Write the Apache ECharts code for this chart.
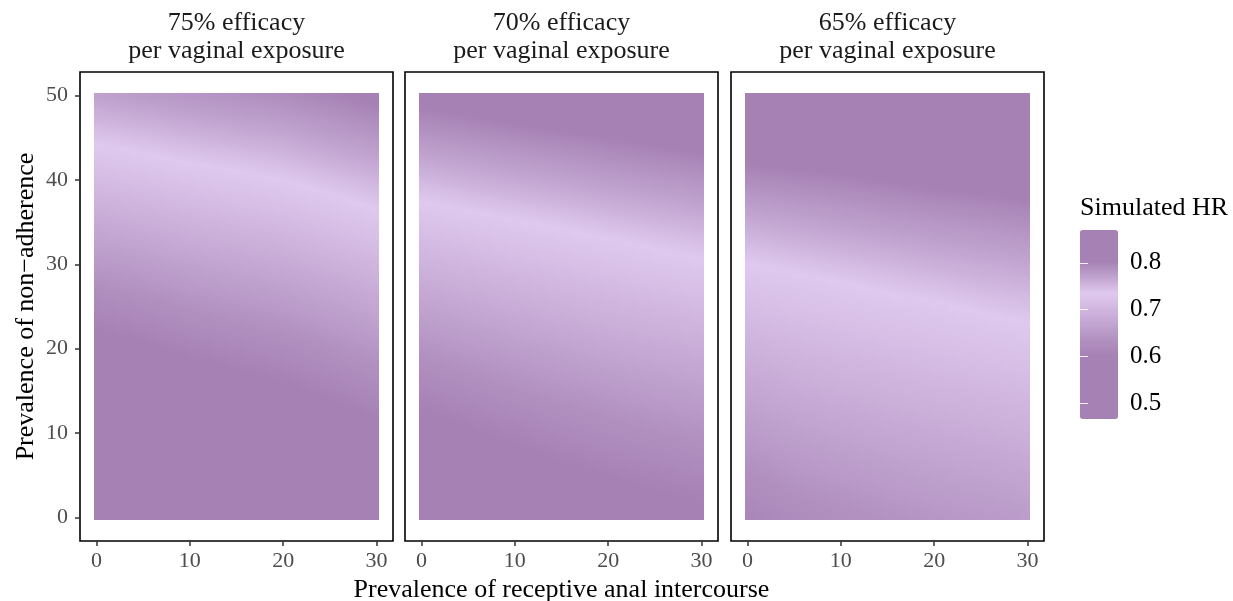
<!DOCTYPE html>
<html>
<head>
<meta charset="utf-8">
<script src="https://cdn.jsdelivr.net/npm/echarts@6/dist/echarts.min.js"></script>
<style>
  html, body { margin: 0; padding: 0; background: #fff; }
  #chart { width: 1233px; height: 601px; }
</style>
</head>
<body>
<div id="chart"></div>
<script>
// grid of simulated values: one array per x column, bottom to top
const xValues = [0, 5, 10, 15, 20, 25, 30];
const yValues = [0, 2.5, 5, 7.5, 10, 12.5, 15, 17.5, 20, 22.5, 25, 27.5, 30, 32.5, 35, 37.5, 40, 42.5, 45, 47.5, 50];

const hr75 = [
  [0.467, 0.482, 0.497, 0.513, 0.528, 0.543, 0.558, 0.573, 0.589, 0.604, 0.619, 0.634, 0.649, 0.665, 0.680, 0.695, 0.710, 0.725, 0.741, 0.756, 0.771],
  [0.477, 0.492, 0.507, 0.522, 0.537, 0.552, 0.567, 0.582, 0.597, 0.612, 0.627, 0.642, 0.657, 0.672, 0.687, 0.702, 0.717, 0.732, 0.747, 0.762, 0.777],
  [0.492, 0.507, 0.521, 0.536, 0.550, 0.565, 0.579, 0.594, 0.608, 0.623, 0.637, 0.652, 0.666, 0.681, 0.695, 0.710, 0.724, 0.739, 0.753, 0.768, 0.782],
  [0.502, 0.516, 0.531, 0.545, 0.559, 0.573, 0.588, 0.602, 0.616, 0.630, 0.645, 0.659, 0.673, 0.687, 0.702, 0.716, 0.730, 0.744, 0.759, 0.773, 0.787],
  [0.512, 0.526, 0.540, 0.554, 0.568, 0.582, 0.596, 0.610, 0.624, 0.638, 0.652, 0.666, 0.680, 0.694, 0.708, 0.722, 0.736, 0.750, 0.764, 0.778, 0.792],
  [0.525, 0.539, 0.553, 0.566, 0.580, 0.594, 0.608, 0.621, 0.635, 0.649, 0.663, 0.676, 0.690, 0.704, 0.718, 0.731, 0.745, 0.759, 0.773, 0.786, 0.800],
  [0.538, 0.552, 0.565, 0.579, 0.592, 0.606, 0.619, 0.633, 0.646, 0.660, 0.673, 0.687, 0.700, 0.714, 0.727, 0.741, 0.754, 0.768, 0.781, 0.795, 0.808]
];

const hr70 = [
  [0.545, 0.556, 0.567, 0.579, 0.590, 0.601, 0.613, 0.626, 0.640, 0.654, 0.667, 0.681, 0.695, 0.708, 0.722, 0.736, 0.751, 0.767, 0.782, 0.797, 0.812],
  [0.554, 0.565, 0.577, 0.588, 0.599, 0.611, 0.624, 0.637, 0.650, 0.663, 0.676, 0.689, 0.702, 0.715, 0.728, 0.743, 0.758, 0.772, 0.787, 0.802, 0.817],
  [0.563, 0.574, 0.586, 0.597, 0.608, 0.621, 0.633, 0.646, 0.658, 0.671, 0.684, 0.696, 0.709, 0.721, 0.734, 0.749, 0.764, 0.778, 0.793, 0.808, 0.823],
  [0.572, 0.583, 0.595, 0.606, 0.618, 0.630, 0.642, 0.654, 0.666, 0.679, 0.691, 0.703, 0.715, 0.727, 0.740, 0.755, 0.769, 0.783, 0.798, 0.813, 0.828],
  [0.581, 0.592, 0.603, 0.615, 0.627, 0.638, 0.650, 0.662, 0.674, 0.686, 0.698, 0.709, 0.721, 0.733, 0.747, 0.761, 0.775, 0.789, 0.803, 0.818, 0.833],
  [0.588, 0.599, 0.610, 0.622, 0.633, 0.645, 0.657, 0.668, 0.680, 0.692, 0.703, 0.715, 0.727, 0.739, 0.753, 0.766, 0.780, 0.794, 0.808, 0.823, 0.838],
  [0.593, 0.605, 0.616, 0.628, 0.639, 0.651, 0.662, 0.674, 0.685, 0.697, 0.708, 0.720, 0.732, 0.745, 0.758, 0.772, 0.785, 0.799, 0.814, 0.829, 0.844]
];

const hr65 = [
  [0.612, 0.622, 0.632, 0.643, 0.653, 0.663, 0.673, 0.683, 0.693, 0.704, 0.714, 0.724, 0.735, 0.749, 0.763, 0.777, 0.792, 0.806, 0.821, 0.836, 0.851],
  [0.625, 0.634, 0.644, 0.653, 0.663, 0.672, 0.682, 0.691, 0.701, 0.710, 0.720, 0.729, 0.741, 0.755, 0.768, 0.782, 0.796, 0.810, 0.825, 0.840, 0.855],
  [0.632, 0.641, 0.651, 0.660, 0.669, 0.678, 0.688, 0.697, 0.706, 0.715, 0.725, 0.734, 0.747, 0.760, 0.773, 0.786, 0.799, 0.814, 0.829, 0.844, 0.859],
  [0.639, 0.648, 0.657, 0.666, 0.675, 0.684, 0.693, 0.702, 0.711, 0.720, 0.729, 0.740, 0.752, 0.765, 0.778, 0.790, 0.804, 0.818, 0.833, 0.847, 0.862],
  [0.645, 0.654, 0.663, 0.671, 0.680, 0.689, 0.698, 0.707, 0.715, 0.724, 0.733, 0.745, 0.758, 0.770, 0.782, 0.795, 0.808, 0.823, 0.837, 0.852, 0.866],
  [0.650, 0.659, 0.667, 0.676, 0.685, 0.694, 0.702, 0.711, 0.720, 0.729, 0.739, 0.751, 0.762, 0.774, 0.786, 0.798, 0.812, 0.826, 0.840, 0.854, 0.868],
  [0.655, 0.664, 0.672, 0.681, 0.690, 0.698, 0.707, 0.715, 0.724, 0.733, 0.744, 0.755, 0.767, 0.778, 0.790, 0.802, 0.815, 0.829, 0.843, 0.856, 0.870]
];

const panelTitles = ["75% efficacy\nper vaginal exposure", "70% efficacy\nper vaginal exposure", "65% efficacy\nper vaginal exposure"];
const xTicks = [0, 10, 20, 30];
const yTicks = [0, 10, 20, 30, 40, 50];
const legendTicks = [0.5, 0.6, 0.7, 0.8];
const hrMin = 0.467;
const hrMax = 0.870;

const dark = "#a682b4";
const paletteStops = [dark, dark, dark, dark, dark, "#b190c0", "#c1a4d0", "#d1b7e0", "#dfc9ee", "#c0a3cf", dark, dark, dark];

const serif = "Liberation Serif";
const panelLefts = [80, 405, 731];
const panelWidth = 313;
const panelTop = 72;
const panelHeight = 469;

// raster reaches a quarter unit past the outer grid points
const rasterPad = 0.25;
const stripPx = 3;
const gradientStops = 7;

const panels = [hr75, hr70, hr65];

function toPoints(cols) {
  const out = [];
  cols.forEach((col, i) => {
    col.forEach((v, j) => {
      out.push([xValues[i], yValues[j], v, i, j]);
    });
  });
  return out;
}

function hrColor(v) {
  const t = Math.min(1, Math.max(0, (v - hrMin) / (hrMax - hrMin)));
  return echarts.color.lerp(t, paletteStops);
}

function clamp01(t) {
  return Math.min(1, Math.max(0, t));
}

// smooth shading of the patch between this grid point and the next one (like an interpolated raster)
function renderPatch(params, api) {
  const i = api.value(3);
  const j = api.value(4);
  const nx = xValues.length;
  const ny = yValues.length;
  if (i >= nx - 1 || j >= ny - 1) return null;
  const cols = panels[params.seriesIndex];
  const v00 = cols[i][j], v10 = cols[i + 1][j], v01 = cols[i][j + 1], v11 = cols[i + 1][j + 1];

  const xa = i === 0 ? xValues[0] - rasterPad : xValues[i];
  const xb = i + 1 === nx - 1 ? xValues[nx - 1] + rasterPad : xValues[i + 1];
  const ya = j === 0 ? yValues[0] - rasterPad : yValues[j];
  const yb = j + 1 === ny - 1 ? yValues[ny - 1] + rasterPad : yValues[j + 1];

  const gx0 = api.coord([xValues[i], yValues[j]]);
  const gx1 = api.coord([xValues[i + 1], yValues[j + 1]]);
  const pa = api.coord([xa, ya]).map(Math.round);
  const pb = api.coord([xb, yb]).map(Math.round);
  const left = pa[0], right = pb[0], bottom = pa[1], top = pb[1];
  const h = bottom - top;

  const children = [];
  for (let px = left; px < right; px += stripPx) {
    const w = Math.min(stripPx, right - px);
    const fx = clamp01((px + w / 2 - gx0[0]) / (gx1[0] - gx0[0]));
    const vb = v00 + (v10 - v00) * fx;
    const vt = v01 + (v11 - v01) * fx;
    const stops = [];
    for (let s = 0; s < gradientStops; s++) {
      const off = s / (gradientStops - 1);
      const py = top + off * h;
      const fy = clamp01((gx0[1] - py) / (gx0[1] - gx1[1]));
      stops.push({ offset: off, color: hrColor(vb + (vt - vb) * fy) });
    }
    children.push({
      type: "rect",
      shape: { x: px, y: top, width: w, height: h },
      style: { fill: new echarts.graphic.LinearGradient(0, 0, 0, 1, stops) },
    });
  }
  return { type: "group", children: children };
}

const chart = echarts.init(document.getElementById("chart"));

const grids = [];
const xAxes = [];
const yAxes = [];
const series = [];
const graphics = [];

panels.forEach((cols, i) => {
  grids.push({
    left: panelLefts[i],
    top: panelTop,
    width: panelWidth,
    height: panelHeight,
    outerBoundsMode: "none",
    containLabel: false,
    show: true,
    borderColor: "#000",
    borderWidth: 1.6,
    backgroundColor: "#fff",
  });
  xAxes.push({
    gridIndex: i,
    type: "value",
    min: -1.775,
    max: 31.775,
    splitLine: { show: false },
    axisLine: { show: false, onZero: false },
    axisTick: {
      show: true,
      customValues: xTicks,
      length: 5,
      lineStyle: { color: "#333", width: 1.5 },
    },
    axisLabel: {
      customValues: xTicks,
      margin: 9,
      fontFamily: serif,
      fontSize: 22,
      color: "#4d4d4d",
    },
    name: i === 1 ? "Prevalence of receptive anal intercourse" : "",
    nameLocation: "middle",
    nameGap: 34,
    nameTextStyle: { fontFamily: serif, fontSize: 26, color: "#000" },
  });
  yAxes.push({
    gridIndex: i,
    type: "value",
    min: -2.775,
    max: 52.775,
    splitLine: { show: false },
    axisLine: { show: false, onZero: false },
    axisTick: {
      show: i === 0,
      customValues: yTicks,
      length: 5,
      lineStyle: { color: "#333", width: 1.5 },
    },
    axisLabel: {
      show: i === 0,
      customValues: yTicks,
      margin: 12,
      fontFamily: serif,
      fontSize: 22,
      color: "#4d4d4d",
    },
    name: i === 0 ? "Prevalence of non\u2212adherence" : "",
    nameLocation: "middle",
    nameGap: 41,
    nameTextStyle: { fontFamily: serif, fontSize: 26, color: "#000" },
  });
  series.push({
    type: "custom",
    xAxisIndex: i,
    yAxisIndex: i,
    renderItem: renderPatch,
    data: toPoints(cols),
    silent: true,
  });
  graphics.push({
    type: "text",
    x: panelLefts[i] + panelWidth / 2,
    y: 9,
    style: {
      text: panelTitles[i],
      fontFamily: serif,
      fontSize: 26,
      lineHeight: 28,
      fill: "#1a1a1a",
      align: "center",
      verticalAlign: "top",
    },
  });
});

// legend colour bar with its own axis for the tick labels
const barLeft = 1080;
const barTop = 230;
const barWidth = 38;
const barHeight = 189;

grids.push({ left: barLeft, top: barTop, width: barWidth, height: barHeight, show: false, outerBoundsMode: "none" });
xAxes.push({ gridIndex: 3, type: "value", show: false });
yAxes.push({
  gridIndex: 3,
  type: "value",
  min: hrMin,
  max: hrMax,
  position: "right",
  z: 10,
  splitLine: { show: false },
  axisLine: { show: false },
  axisTick: {
    customValues: legendTicks,
    inside: true,
    length: 8,
    lineStyle: { color: "rgba(255,255,255,0.85)", width: 1 },
  },
  axisLabel: {
    customValues: legendTicks,
    margin: 12,
    fontFamily: serif,
    fontSize: 25,
    color: "#000",
    formatter: v => v.toFixed(1),
  },
});
yAxes.push({
  gridIndex: 3,
  type: "value",
  min: hrMin,
  max: hrMax,
  position: "left",
  z: 10,
  splitLine: { show: false },
  axisLine: { show: false },
  axisLabel: { show: false },
  axisTick: {
    customValues: legendTicks,
    inside: true,
    length: 8,
    lineStyle: { color: "rgba(255,255,255,0.85)", width: 1 },
  },
});

graphics.push({
  type: "text",
  x: barLeft,
  y: 195,
  style: {
    text: "Simulated HR",
    fontFamily: serif,
    fontSize: 26,
    fill: "#000",
    verticalAlign: "top",
  },
});

chart.setOption({
  animation: false,
  backgroundColor: "#fff",
  grid: grids,
  xAxis: xAxes,
  yAxis: yAxes,
  visualMap: {
    type: "continuous",
    min: hrMin,
    max: hrMax,
    dimension: 2,
    seriesIndex: [0, 1, 2],
    calculable: false,
    hoverLink: false,
    left: barLeft,
    top: barTop,
    padding: 0,
    itemWidth: barWidth,
    itemHeight: barHeight,
    inRange: { color: paletteStops },
  },
  graphic: graphics,
  series: series,
});
</script>
</body>
</html>
